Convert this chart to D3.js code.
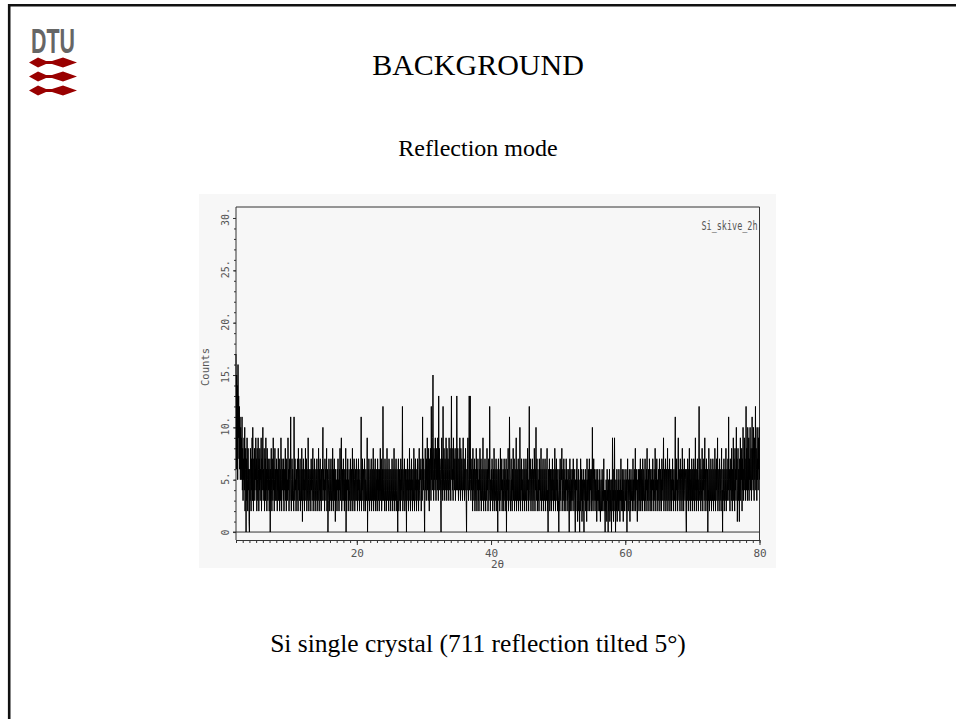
<!DOCTYPE html>
<html>
<head>
<meta charset="utf-8">
<script src="https://d3js.org/d3.v7.min.js"></script>
<style>
  body { margin: 0; background: #fff; }
  svg { display: block; }
</style>
</head>
<body>
<div class="slide"></div>
<script>
// scan settings
var startAngle = 2;
var stopAngle = 80;
var stepSize = 0.05;

// counts, one row per degree (2.00 .. 80.00)
var counts = [
  17,6,15,8,14,5,16,9,13,7,12,6,11,5,10,6,9,5,11,4,
  8,3,7,5,9,4,10,2,6,8,0,7,3,9,5,2,8,4,6,1,
  0,6,3,8,5,2,7,4,9,3,10,5,2,7,4,8,3,6,5,9,
  4,7,2,8,5,3,9,6,2,7,4,8,3,6,5,9,2,7,4,6,
  10,3,6,4,8,2,5,7,3,9,4,6,2,8,5,3,7,4,6,2,
  5,7,0,6,3,8,4,2,7,5,3,9,4,6,2,5,8,3,6,4,
  3,7,5,2,6,4,8,3,5,7,2,4,6,3,9,5,2,7,4,6,
  5,3,7,2,6,4,5,8,3,6,2,7,4,5,3,9,4,6,2,5,
  7,3,6,11,4,2,5,7,3,6,5,4,2,11,6,3,7,4,5,2,
  6,4,3,7,5,2,8,4,6,3,5,7,2,4,6,3,8,5,1,6,
  4,7,3,5,2,6,4,8,3,5,7,2,6,4,3,9,5,2,6,4,
  3,6,5,2,7,4,6,3,5,8,2,4,6,3,7,5,2,4,6,3,
  5,7,2,4,6,3,8,5,2,6,4,7,3,5,2,6,4,3,7,10,
  4,6,3,5,2,7,4,6,3,5,8,2,4,6,0,3,5,7,2,4,
  6,3,5,7,2,4,6,3,8,5,2,6,4,7,3,5,1,6,4,3,
  5,2,6,4,7,3,5,2,6,4,8,3,5,7,9,2,4,6,3,5,
  7,3,5,2,6,4,3,8,0,5,2,6,4,7,3,5,2,6,4,3,
  5,7,2,4,6,3,5,8,2,4,6,3,7,5,2,4,6,3,5,7,
  3,5,2,6,4,7,3,5,2,6,4,3,5,11,2,6,4,7,3,5,
  6,2,4,7,3,5,2,6,4,3,5,9,0,4,6,3,7,5,2,4,
  6,3,5,7,2,4,6,3,5,8,2,4,6,3,5,7,2,4,6,3,
  5,2,7,4,6,3,5,2,6,4,8,3,5,7,2,4,6,3,12,5,
  3,6,4,2,7,5,3,6,2,4,8,5,3,6,4,2,7,5,3,6,
  4,2,6,5,3,7,4,2,6,3,5,8,4,2,6,3,5,7,4,2,
  6,3,0,5,7,2,4,6,3,5,2,7,4,6,3,5,12,2,6,4,
  3,5,7,2,4,6,3,5,0,6,4,7,3,5,2,6,4,8,3,5,
  2,6,4,7,3,5,2,6,4,3,8,5,2,6,4,7,3,5,2,6,
  4,7,3,5,2,6,8,4,3,6,5,7,2,4,6,3,11,5,7,4,
  6,3,0,5,8,4,6,3,7,5,9,4,6,3,8,5,2,7,4,6,
  8,3,12,5,7,4,9,15,6,3,8,5,7,4,9,6,3,8,5,7,
  4,9,6,3,13,5,8,4,7,6,3,0,5,9,4,7,3,12,6,4,
  8,5,3,7,6,4,9,5,3,8,6,4,7,5,3,9,6,4,8,5,
  3,7,13,5,8,4,6,3,9,5,7,4,6,8,3,5,7,4,13,6,
  4,8,5,3,7,6,4,9,5,3,8,6,4,7,5,3,6,9,4,5,
  7,3,6,4,8,5,3,0,6,4,7,9,5,3,6,13,4,7,13,5,
  3,6,4,7,5,2,8,4,6,3,5,7,2,6,4,3,8,5,2,6,
  4,7,3,5,2,6,4,8,3,5,7,2,4,6,3,5,9,4,2,6,
  5,3,7,4,2,6,5,3,8,4,6,2,5,7,3,4,12,6,2,5,
  4,6,3,7,5,2,4,6,3,8,5,2,6,4,3,7,5,2,6,4,
  0,5,7,3,6,4,2,5,8,3,6,4,7,2,5,3,6,4,2,7,
  5,3,6,4,2,7,0,5,3,6,4,8,2,5,3,11,6,4,2,5,
  7,3,5,2,6,4,8,3,5,7,2,4,6,3,5,9,2,4,6,3,
  5,7,2,4,6,3,10,5,2,6,4,7,3,5,2,6,4,3,7,5,
  2,6,4,3,7,5,2,6,4,8,3,5,2,6,12,4,3,7,5,2,
  6,4,3,7,5,2,6,4,3,8,5,2,6,4,10,3,5,7,2,4,
  6,3,5,2,7,4,6,3,5,8,2,4,6,3,5,7,2,4,6,3,
  5,7,2,4,6,3,5,8,2,4,0,6,3,5,7,2,4,6,3,5,
  2,6,4,7,3,5,2,6,4,3,8,5,2,6,4,7,3,5,2,6,
  4,3,0,6,5,2,7,4,3,6,5,8,2,4,6,3,5,7,2,4,
  6,3,5,2,7,4,6,3,5,2,6,4,3,0,5,7,2,4,6,3,
  5,2,6,4,3,7,5,2,6,4,3,0,5,2,6,4,7,3,1,5,
  2,6,4,3,0,5,2,7,4,3,6,1,5,2,4,6,3,0,5,4,
  3,6,2,5,4,1,7,3,5,2,6,4,3,7,2,5,4,6,3,2,
  6,3,10,4,2,5,7,3,6,4,2,5,3,6,4,1,5,3,6,2,
  4,3,5,2,6,3,1,4,5,2,3,6,4,2,5,3,7,2,4,3,
  0,4,2,5,3,1,6,3,4,0,5,2,3,6,1,4,2,5,3,0,
  5,2,9,3,4,1,6,3,9,2,4,0,5,3,2,6,1,4,3,5,
  2,6,3,4,1,5,3,7,2,4,3,6,2,5,1,4,6,3,2,5,
  4,3,6,2,5,0,4,7,3,2,5,4,6,3,1,5,2,6,4,3,
  5,2,4,7,3,5,2,6,4,3,8,2,5,4,6,3,1,5,3,6,
  4,2,6,3,5,7,2,4,6,3,5,2,7,4,3,6,5,2,4,7,
  3,5,2,6,4,8,3,5,2,6,4,3,7,5,2,4,6,3,5,2,
  6,4,7,3,5,2,6,4,3,8,5,2,6,4,7,3,5,2,4,6,
  3,5,7,2,4,6,3,5,2,7,4,6,3,5,9,2,4,6,3,5,
  7,2,4,6,3,5,8,2,4,6,3,5,7,2,4,6,3,5,2,6,
  4,7,3,5,2,6,4,3,5,11,2,6,4,7,3,5,2,6,9,4,
  3,6,5,2,7,4,3,6,5,2,8,4,3,6,2,5,7,4,3,6,
  5,2,0,6,4,3,7,5,2,6,4,8,3,5,2,6,4,3,7,5,
  2,6,4,3,7,5,2,6,4,9,3,5,2,6,4,7,3,5,2,6,
  12,4,3,7,5,2,6,4,3,8,5,2,6,4,7,3,5,9,2,6,
  4,3,7,5,2,6,0,4,3,8,5,2,6,4,3,7,5,2,6,4,
  3,7,5,2,6,4,3,8,5,2,6,4,7,3,5,9,2,6,4,3,
  5,7,2,6,4,3,5,8,2,4,0,6,3,5,7,2,4,6,3,5,
  8,2,4,6,3,5,7,4,11,3,6,5,2,7,4,6,3,8,5,2,
  6,4,9,3,7,5,2,8,4,6,3,10,5,7,1,4,8,3,6,5,
  1,7,4,9,3,6,5,8,2,7,4,10,3,6,5,9,4,7,3,6,
  12,4,8,5,3,10,6,4,9,3,7,5,10,4,6,8,3,7,11,5,
  8,4,10,6,3,9,5,7,12,4,8,6,3,10,5,7,4,9,6,10,
  5
];

// axis ticks
var xTickValues = [20, 40, 60, 80];
var yTickValues = [0, 5, 10, 15, 20, 25, 30];
var yTickLabels = ["0", "5.", "10.", "15.", "20.", "25.", "30."];

// texts
var titleText = "BACKGROUND";
var subtitleText = "Reflection mode";
var captionText = "Si single crystal (711 reflection tilted 5\u00b0)";
var sampleName = "Si_skive_2h";
var xLabel = "2\u03b8";
var yLabel = "Counts";
var logoText = "DTU";
var logoRows = [0, 1, 2];

function init() {
  var w = 956;
  var h = 719;

  var svg = d3.select(".slide")
    .append("svg")
    .attr("width", w)
    .attr("height", h);

  // slide frame (left + top border)
  svg.append("line")
    .attr("x1", 9.2).attr("x2", 9.2)
    .attr("y1", 4).attr("y2", h)
    .attr("stroke", "#111").attr("stroke-width", 2.6);
  svg.append("line")
    .attr("x1", 8).attr("x2", w)
    .attr("y1", 5.2).attr("y2", 5.2)
    .attr("stroke", "#111").attr("stroke-width", 2.4);

  // DTU logo
  svg.append("text")
    .attr("x", 31)
    .attr("y", 52.5)
    .attr("textLength", 44)
    .attr("lengthAdjust", "spacingAndGlyphs")
    .attr("font-family", "Liberation Sans Narrow, Liberation Sans, sans-serif")
    .attr("font-weight", "bold")
    .attr("font-size", "35px")
    .attr("fill", "#666")
    .text(logoText);

  svg.selectAll(".wave")
    .data(logoRows)
    .enter()
    .append("path")
    .attr("class", "wave")
    .attr("fill", "#990000")
    .attr("d", function(d) {
      var c = 62.5 + d * 14;
      return "M29," + c +
        " L38," + (c - 5) + " L46," + (c - 1.6) +
        " L52," + (c - 1.6) +
        " L63," + (c - 5) + " L77," + c +
        " L63," + (c + 5) + " L52," + (c + 1.6) +
        " L46," + (c + 1.6) +
        " L38," + (c + 5) + " Z";
    });

  // slide texts
  svg.append("text")
    .attr("x", 478).attr("y", 75)
    .attr("text-anchor", "middle")
    .attr("font-family", "Liberation Serif, Times New Roman, serif")
    .attr("font-size", "30px")
    .attr("fill", "#000")
    .text(titleText);

  svg.append("text")
    .attr("x", 478).attr("y", 156)
    .attr("text-anchor", "middle")
    .attr("font-family", "Liberation Serif, Times New Roman, serif")
    .attr("font-size", "24px")
    .attr("fill", "#000")
    .text(subtitleText);

  svg.append("text")
    .attr("x", 478).attr("y", 652)
    .attr("text-anchor", "middle")
    .attr("font-family", "Liberation Serif, Times New Roman, serif")
    .attr("font-size", "25.5px")
    .attr("fill", "#000")
    .text(captionText);

  // plot picture background
  svg.append("rect")
    .attr("x", 199).attr("y", 194)
    .attr("width", 577).attr("height", 374)
    .attr("fill", "#f7f7f7");

  var left = 236, right = 759.5, top = 207, bottom = 540;

  var xScale = d3.scaleLinear()
    .domain([startAngle, stopAngle])
    .range([left, right]);

  var yScale = d3.scaleLinear()
    .domain([-0.76, 31.05])
    .range([bottom, top]);

  var axisColor = "#333";
  var labelFont = "DejaVu Sans Mono, monospace";

  // frame of the plot
  svg.append("path")
    .attr("d", "M" + left + "," + bottom + " V" + top + " H" + right + " V" + bottom)
    .attr("fill", "none")
    .attr("stroke", axisColor)
    .attr("stroke-width", 1);

  // zero line
  svg.append("line")
    .attr("x1", left - 3).attr("x2", right)
    .attr("y1", yScale(0)).attr("y2", yScale(0))
    .attr("stroke", axisColor);

  // x axis: minor ticks every degree, labelled ones
  var xMinor = svg.append("g")
    .attr("transform", "translate(0," + bottom + ")")
    .call(d3.axisBottom(xScale)
      .tickValues(d3.range(startAngle, stopAngle + 1, 1))
      .tickSize(3)
      .tickSizeOuter(0)
      .tickFormat(""));
  xMinor.select(".domain").attr("stroke", axisColor);
  xMinor.selectAll("line").attr("stroke", axisColor);

  var xMajor = svg.append("g")
    .attr("transform", "translate(0," + bottom + ")")
    .call(d3.axisBottom(xScale)
      .tickValues(xTickValues)
      .tickSize(5)
      .tickSizeOuter(0)
      .tickPadding(4));
  xMajor.select(".domain").remove();
  xMajor.selectAll("line").attr("stroke", axisColor);
  xMajor.selectAll("text")
    .attr("font-family", labelFont)
    .attr("font-size", "11px")
    .attr("fill", "#555");

  // y axis: minor ticks every count, labelled every 5
  var yMinor = svg.append("g")
    .attr("transform", "translate(" + left + ",0)")
    .call(d3.axisLeft(yScale)
      .tickValues(d3.range(0, 31, 1))
      .tickSize(2)
      .tickSizeOuter(0)
      .tickFormat(""));
  yMinor.select(".domain").remove();
  yMinor.selectAll("line").attr("stroke", axisColor);

  var yMajor = svg.append("g")
    .attr("transform", "translate(" + left + ",0)")
    .call(d3.axisLeft(yScale)
      .tickValues(yTickValues)
      .tickSize(3)
      .tickSizeOuter(0)
      .tickFormat(function(d, i) { return yTickLabels[i]; }));
  yMajor.select(".domain").remove();
  yMajor.selectAll("line").attr("stroke", axisColor);
  yMajor.selectAll("text")
    .attr("font-family", labelFont)
    .attr("font-size", "10px")
    .attr("fill", "#555")
    .attr("text-anchor", "middle")
    .attr("dy", null)
    .attr("x", function(d, i) { return yTickLabels[i].indexOf(".") > 0 ? 1.5 : 0; })
    .attr("y", -7.5)
    .attr("transform", "rotate(-90)");

  // axis titles
  svg.append("text")
    .attr("x", 497.5).attr("y", 567.5)
    .attr("text-anchor", "middle")
    .attr("font-family", labelFont)
    .attr("font-size", "11px")
    .attr("fill", "#555")
    .text(xLabel);

  svg.append("text")
    .attr("transform", "translate(209," + 367 + ") rotate(-90)")
    .attr("text-anchor", "middle")
    .attr("font-family", labelFont)
    .attr("font-size", "10.5px")
    .attr("fill", "#555")
    .text(yLabel);

  svg.append("text")
    .attr("x", 757.5).attr("y", 230)
    .attr("text-anchor", "end")
    .attr("textLength", 56)
    .attr("lengthAdjust", "spacingAndGlyphs")
    .attr("font-family", labelFont)
    .attr("font-size", "11.5px")
    .attr("fill", "#555")
    .text(sampleName);

  // the scan itself
  var line = d3.line()
    .x(function(d, i) { return xScale(startAngle + i * stepSize); })
    .y(function(d) { return yScale(d); });

  svg.append("path")
    .datum(counts)
    .attr("d", line)
    .attr("fill", "none")
    .attr("stroke", "#000")
    .attr("stroke-width", 1);
}

window.onload = init;
</script>
</body>
</html>
